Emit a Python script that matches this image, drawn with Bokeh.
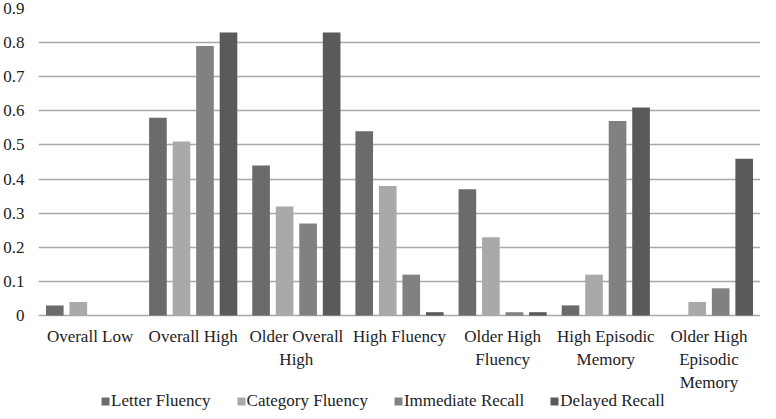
from bokeh.plotting import figure
from bokeh.models import ColumnDataSource, FactorRange, Range1d, FixedTicker, Legend, LegendItem
from bokeh.transform import dodge
from bokeh.core.properties import value
from bokeh.embed import file_html
from bokeh.resources import INLINE

groups = ["Overall Low", "Overall High", "Older Overall High", "High Fluency",
          "Older High Fluency", "High Episodic Memory", "Older High Episodic Memory"]
label_line1 = ["Overall Low", "Overall High", "Older Overall", "High Fluency",
               "Older High", "High Episodic", "Older High"]
label_line2 = ["", "", "High", "", "Fluency", "Memory", "Episodic"]
label_line3 = ["", "", "", "", "", "", "Memory"]
series_names = ["Letter Fluency", "Category Fluency", "Immediate Recall", "Delayed Recall"]
letter_fluency = [0.03, 0.58, 0.44, 0.54, 0.37, 0.03, 0.0]
category_fluency = [0.04, 0.51, 0.32, 0.38, 0.23, 0.12, 0.04]
immediate_recall = [0.0, 0.79, 0.27, 0.12, 0.01, 0.57, 0.08]
delayed_recall = [0.0, 0.83, 0.83, 0.01, 0.01, 0.61, 0.46]
y_ticks = [0, 0.1, 0.2, 0.3, 0.4, 0.5, 0.6, 0.7, 0.8, 0.9]
y_tick_labels = ["0", "0.1", "0.2", "0.3", "0.4", "0.5", "0.6", "0.7", "0.8", "0.9"]

colors = ["#6b6b6d", "#a9a9ab", "#818184", "#5a5a5c"]
offsets = [-0.342, -0.114, 0.114, 0.342]

src = ColumnDataSource(dict(group=groups, s0=letter_fluency, s1=category_fluency,
                            s2=immediate_recall, s3=delayed_recall,
                            l1=label_line1, l2=label_line2, l3=label_line3,
                            base=[0.0] * len(groups)))

FONT = "'Liberation Serif', 'Times New Roman', serif"
TXT = "#222222"

p = figure(width=760, height=411, x_range=FactorRange(*groups), y_range=Range1d(-0.281, 0.9),
           output_backend="svg", toolbar_location=None,
           min_border_left=30, min_border_right=0, min_border_top=8, min_border_bottom=0)
p.outline_line_color = None
p.background_fill_color = "white"

p.xaxis.visible = False
p.xgrid.grid_line_color = None
p.ygrid.grid_line_color = "#a8a8a8"
p.ygrid.grid_line_width = 1.5
p.yaxis.ticker = FixedTicker(ticks=y_ticks)
p.yaxis.major_label_overrides = {t: l for t, l in zip(y_ticks, y_tick_labels)}
p.yaxis.axis_line_color = None
p.yaxis.major_tick_line_color = None
p.yaxis.minor_tick_line_color = None
p.yaxis.major_label_standoff = 8
p.yaxis.major_label_text_font = FONT
p.yaxis.major_label_text_font_size = "17px"
p.yaxis.major_label_text_color = TXT

items = []
for i, name in enumerate(series_names):
    r = p.vbar(x=dodge("group", offsets[i], range=p.x_range), top="s%d" % i, width=0.171,
               source=src, fill_color=colors[i], line_color=None)
    items.append(LegendItem(label=name, renderers=[r]))

for col, off in (("l1", 21), ("l2", 44), ("l3", 67)):
    p.text(x="group", y="base", text=col, source=src, y_offset=off,
           text_align="center", text_baseline="middle",
           text_font=value(FONT), text_font_size="17px", text_color=TXT)

legend = Legend(items=items, orientation="horizontal", location=(62, 0),
                label_text_font=FONT, label_text_font_size="17px", label_text_color=TXT,
                glyph_width=10, glyph_height=10, label_standoff=1, spacing=25,
                border_line_color=None, background_fill_alpha=0, padding=0, margin=0)
p.add_layout(legend, "center")

open("out.html", "w").write(file_html(p, INLINE))
